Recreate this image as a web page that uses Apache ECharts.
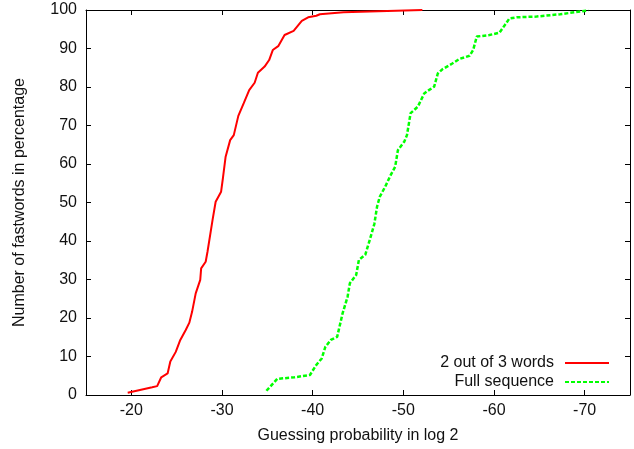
<!DOCTYPE html>
<html>
<head>
<meta charset="utf-8">
<script src="https://cdn.jsdelivr.net/npm/echarts@6/dist/echarts.min.js"></script>
<style>html,body{margin:0;padding:0;background:#fff}#c{width:634px;height:449px}</style>
</head>
<body>
<div id="c"></div>
<script>
var seriesNames = ['2 out of 3 words', 'Full sequence'];
var xTitle = 'Guessing probability in log 2';
var yTitle = 'Number of fastwords in percentage';

var twoOfThreeX = [-19.6,-22.3,-22.85,-23.3,-24.0,-24.3,-24.9,-25.4,-26.0,-26.4,-26.7,-27.1,-27.6,-27.7,-28.2,-28.4,-28.96,-29.3,-29.9,-30.1,-30.4,-30.9,-31.3,-31.8,-32.4,-33.0,-33.6,-33.96,-34.7,-35.2,-35.6,-36.2,-36.9,-37.9,-38.8,-39.5,-40.4,-40.8,-43.4,-52.1];
var twoOfThreeY = [0.6,2.0,2.3,4.6,5.6,8.7,11.2,14.3,16.9,18.8,21.6,26.4,29.9,32.9,34.6,37.2,45.5,50.2,52.8,56.3,61.9,66.2,67.5,72.5,75.8,79.2,81.1,83.7,85.3,87.0,89.6,90.6,93.5,94.6,97.2,98.1,98.5,98.9,99.4,100];

var fullSeqX = [-34.9,-36.1,-38.0,-39.7,-40.4,-41.0,-41.4,-42.0,-42.7,-43.3,-43.85,-44.1,-44.8,-45.1,-45.8,-46.3,-46.8,-47.1,-47.4,-48.0,-48.6,-49.1,-49.4,-50.1,-50.4,-50.8,-51.6,-52.3,-52.7,-53.4,-53.8,-54.3,-55.4,-56.2,-57.3,-57.7,-58.1,-59.5,-60.6,-61.2,-61.7,-62.5,-64.7,-67.3,-70.4];
var fullSeqY = [1.1,4.2,4.6,5.2,7.8,9.5,12.5,14.3,15.1,21.2,25.5,29.0,31.2,35.1,36.4,40.3,44.4,48.9,51.5,54.1,57.1,59.3,63.6,65.8,67.5,73.2,74.9,78.3,79.0,80.1,83.5,84.6,86.1,87.3,88.1,89.6,93.1,93.5,94.1,96.1,97.8,98.1,98.3,98.9,99.9];

function zip(a, b) { return a.map(function (v, i) { return [v, b[i]]; }); }

var FONT = 'Liberation Sans, Arial, Helvetica, sans-serif';
var chart = echarts.init(document.getElementById('c'), null, {renderer: 'canvas'});
var axisLine = {show: true, onZero: false, lineStyle: {color: '#000', width: 1}};
var tick = {show: true, inside: true, length: 5, lineStyle: {color: '#000', width: 1}};
chart.setOption({
  animation: false,
  backgroundColor: '#fff',
  textStyle: {fontFamily: FONT},
  grid: {left: 86, right: 4, top: 10, bottom: 54, containLabel: false},
  xAxis: [{
    type: 'value', min: -75, max: -15, inverse: true, position: 'bottom',
    axisLine: axisLine, axisTick: tick, splitLine: {show: false},
    axisLabel: {showMinLabel: false, showMaxLabel: false, fontSize: 16, color: '#111', margin: 8, fontFamily: FONT},
    name: xTitle, nameLocation: 'middle', nameGap: 33,
    nameTextStyle: {fontSize: 16, color: '#111', fontFamily: FONT}
  }, {
    type: 'value', min: -75, max: -15, inverse: true, position: 'top',
    axisLine: axisLine, axisTick: tick, splitLine: {show: false},
    axisLabel: {show: false}
  }],
  yAxis: [{
    type: 'value', min: 0, max: 100, interval: 10, position: 'left',
    axisLine: axisLine, axisTick: tick, splitLine: {show: false},
    axisLabel: {fontSize: 16, color: '#111', margin: 9, fontFamily: FONT},
    name: yTitle, nameLocation: 'middle', nameGap: 58, nameRotate: 90,
    nameTextStyle: {fontSize: 16, color: '#111', fontFamily: FONT}
  }, {
    type: 'value', min: 0, max: 100, interval: 10, position: 'right',
    axisLine: axisLine, axisTick: tick, splitLine: {show: false},
    axisLabel: {show: false}
  }],
  legend: {
    orient: 'vertical', align: 'right', right: 24, bottom: 59, padding: 0,
    itemWidth: 44, itemHeight: 14, itemGap: 3,
    itemStyle: {opacity: 0},
    textStyle: {fontSize: 16, color: '#111', fontFamily: FONT, padding: [0, 6, 0, 0]},
    data: seriesNames
  },
  series: [{
    name: seriesNames[0], type: 'line', xAxisIndex: 0, yAxisIndex: 0,
    data: zip(twoOfThreeX, twoOfThreeY), symbol: 'none', smooth: false,
    lineStyle: {color: '#ff0000', width: 2},
    itemStyle: {color: '#ff0000'}
  }, {
    name: seriesNames[1], type: 'line', xAxisIndex: 0, yAxisIndex: 0,
    data: zip(fullSeqX, fullSeqY), symbol: 'none', smooth: false,
    lineStyle: {color: '#00ff00', width: 2.5, type: [4, 2]},
    itemStyle: {color: '#00ff00'}
  }]
});
</script>
</body>
</html>
